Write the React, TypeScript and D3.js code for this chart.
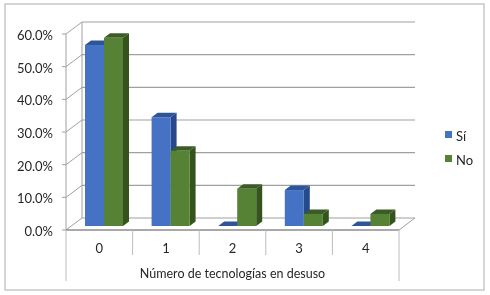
import React from "react";
import * as d3 from "d3";

const categories = ["0", "1", "2", "3", "4"];
const siValues = [55.4, 33.3, 0, 11, 0];
const noValues = [57.6, 23, 11.4, 3.7, 3.7];
const yTicks = [0, 10, 20, 30, 40, 50, 60];
const axisTitle = "Número de tecnologías en desuso";
const seriesNames = ["Sí", "No"];

const FONT = "Lato, 'Open Sans', sans-serif";
const TEXT = "#262626";
const GRID = "#a0a0a0";
const DX = 16, DY = -12; // wall depth
const BDX = 6, BDY = -4.5; // bar depth

const x = d3.scaleBand<string>().domain(categories).range([66, 399]);
const y = d3.scaleLinear().domain([0, 60]).range([230, 34]);
const BASE_DY = -4;

const colors = [
  { front: "#4472c4", side: "#264a8c", top: "#2f5597" },
  { front: "#548235", side: "#34521f", top: "#3b5c25" },
];

function Bar({ x0, w, v, c }: { x0: number; w: number; v: number; c: typeof colors[0] }) {
  const b = y(0) + BASE_DY;
  const t = y(v) + BASE_DY;
  const x1 = x0 + w;
  return (
    <g>
      <polygon points={`${x1},${t} ${x1 + BDX},${t + BDY} ${x1 + BDX},${b + BDY} ${x1},${b}`} fill={c.side} />
      <polygon points={`${x0},${t} ${x0 + BDX},${t + BDY} ${x1 + BDX},${t + BDY} ${x1},${t}`} fill={c.top} />
      <rect x={x0} y={t} width={w} height={b - t} fill={c.front} />
    </g>
  );
}

export default function App() {
  const step = x.step();
  const barW = 19;
  const off = 19;
  const left = x.range()[0];
  const right = x.range()[1];
  return (
    <svg width={490} height={295} style={{ position: "absolute", left: 0, top: 0, fontFamily: FONT }}>
      <defs>
        <filter id="soft" x="0" y="0" width="100%" height="100%">
          <feGaussianBlur stdDeviation="0.35" />
        </filter>
      </defs>
      <g filter="url(#soft)">
        <rect width={490} height={295} fill="#fff" />
        <rect x={5} y={4} width={479} height={286} fill="#fff" stroke="#c8c8c8" strokeWidth={1.5} />

        {yTicks.map((t) => (
          <g key={t} stroke={GRID} strokeWidth={1} fill="none">
            {t > 0 && <line x1={left + DX} x2={right + DX} y1={y(t) + DY} y2={y(t) + DY} strokeWidth={1.2} />}
            <line x1={left} y1={y(t)} x2={left + DX} y2={y(t) + DY} />
            <line x1={left - 4} x2={left} y1={y(t)} y2={y(t)} />
          </g>
        ))}
        <line x1={left} x2={left} y1={y(60)} y2={y(0)} stroke={GRID} />
        <line x1={left + DX} x2={left + DX} y1={y(60) + DY} y2={y(0) + DY} stroke={GRID} />
        <line x1={left + DX} x2={right + DX} y1={y(0) + DY} y2={y(0) + DY} stroke={GRID} strokeWidth={1.2} />
        <line x1={right} y1={y(0)} x2={right + DX} y2={y(0) + DY} stroke={GRID} />
        <line x1={left} x2={right} y1={y(0)} y2={y(0)} stroke="#8c8c8c" strokeWidth={1.4} />

        {categories.map((c, i) => {
          const x0 = (x(c) as number) + off;
          return (
            <g key={c}>
              <Bar x0={x0} w={barW} v={siValues[i]} c={colors[0]} />
              <Bar x0={x0 + barW} w={barW} v={noValues[i]} c={colors[1]} />
            </g>
          );
        })}

        {d3.range(categories.length + 1).map((i) => {
          const px = left + i * step;
          const outer = i === 0 || i === categories.length;
          return <line key={i} x1={px} x2={px} y1={y(0)} y2={outer ? 281 : 255} stroke="#bdbdbd" strokeWidth={1} />;
        })}

        {yTicks.map((t) => (
          <text key={t} x={53} y={y(t) + 1.5} dy="0.35em" textAnchor="end" fontSize={13} fill={TEXT}>
            {d3.format(".1f")(t)}%
          </text>
        ))}
        {categories.map((c) => (
          <text key={c} x={(x(c) as number) + step / 2} y={248.5} dy="0.35em" textAnchor="middle" fontSize={13} fill={TEXT}>
            {c}
          </text>
        ))}
        <text x={232.5} y={274} dy="0.35em" textAnchor="middle" fontSize={12.5} fill={TEXT}>
          {axisTitle}
        </text>

        {seriesNames.map((n, i) => (
          <g key={n}>
            <rect x={445} y={131 + i * 24} width={7} height={7} fill={colors[i].front} />
            <text x={456} y={136 + i * 24} dy="0.35em" fontSize={13} fill={TEXT}>
              {n}
            </text>
          </g>
        ))}
      </g>
    </svg>
  );
}
